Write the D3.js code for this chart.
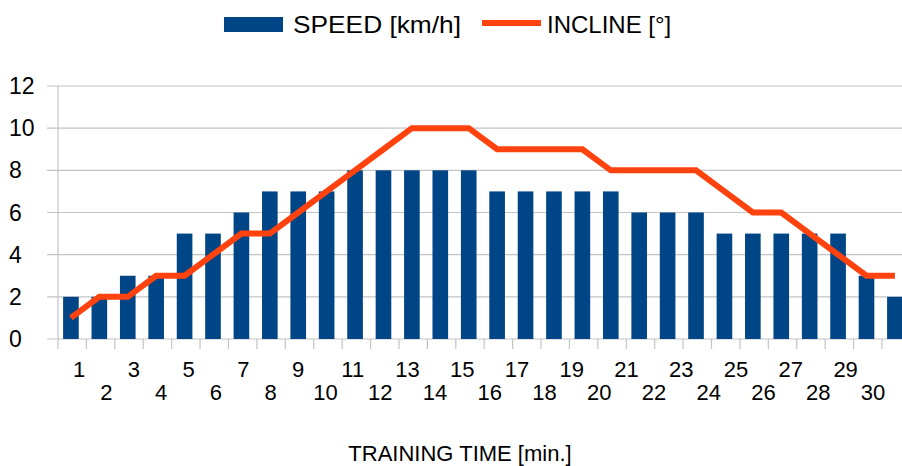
<!DOCTYPE html>
<html lang="en">
<head>
<meta charset="UTF-8">
<title>Speed and incline</title>
<script src="https://cdn.jsdelivr.net/npm/d3@7"></script>
<style>
  body { margin: 0; background: #fff; }
  text { font-family: "Liberation Sans", Arial, sans-serif; fill: #000; }
</style>
</head>
<body>
<div id="chart"></div>
<script>
    // data
    const minutes = d3.range(1, 31);
    const speed = [2, 2, 3, 3, 5, 5, 6, 7, 7, 7, 8, 8, 8, 8, 8, 7, 7, 7, 7, 7, 6, 6, 6, 5, 5, 5, 5, 5, 3, 2];
    const incline = [1, 2, 2, 3, 3, 4, 5, 5, 6, 7, 8, 9, 10, 10, 10, 9, 9, 9, 9, 8, 8, 8, 8, 7, 6, 6, 5, 4, 3, 3];
    const yTicks = [0, 2, 4, 6, 8, 10, 12];

    const W = 902, H = 466;
    const blue = "#004586", orange = "#ff420e", grid = "#c4c4c4";

    svg = d3.select("#chart")
        .append("svg")
        .attr("width", W)
        .attr("height", H);

    const x = d3.scaleBand()
        .domain(minutes)
        .range([58, 910.4])
        .padding(0);
    const y = d3.scaleLinear()
        .domain([0, 12])
        .range([339, 86]);
    // the category labels are spread a bit tighter than the bands
    const xl = d3.scaleLinear()
        .domain([1, 30])
        .range([79, 873]);

    const bw = x.bandwidth();
    const barX = d => x(d) + bw * 0.18;
    const barW = bw * 0.55;

    // horizontal grid
    svg.append("g")
        .selectAll("line")
        .data(yTicks)
        .join("line")
        .attr("x1", 47)
        .attr("x2", W)
        .attr("y1", d => y(d))
        .attr("y2", d => y(d))
        .attr("stroke", grid)
        .attr("stroke-width", 1.2);

    // vertical axis line
    svg.append("line")
        .attr("x1", 58).attr("x2", 58)
        .attr("y1", y(12)).attr("y2", 349)
        .attr("stroke", grid)
        .attr("stroke-width", 1.2);

    // category tick marks at band edges
    svg.append("g")
        .selectAll("line")
        .data(minutes)
        .join("line")
        .attr("x1", d => x(d) + bw)
        .attr("x2", d => x(d) + bw)
        .attr("y1", y(0))
        .attr("y2", 349)
        .attr("stroke", grid)
        .attr("stroke-width", 1.2);

    // y labels
    svg.append("g")
        .selectAll("text")
        .data(yTicks)
        .join("text")
        .attr("x", 9)
        .attr("y", d => y(d) + 8)
        .attr("font-size", 23)
        .text(d => d);

    // bars
    svg.append("g")
        .selectAll("rect")
        .data(minutes)
        .join("rect")
        .attr("x", barX)
        .attr("width", barW)
        .attr("y", (d, i) => y(speed[i]))
        .attr("height", (d, i) => y(0) - y(speed[i]))
        .attr("fill", blue);

    // incline line
    const line = d3.line()
        .x(d => barX(d) + barW / 2)
        .y((d, i) => y(incline[i]));
    svg.append("path")
        .datum(minutes)
        .attr("d", line)
        .attr("fill", "none")
        .attr("stroke", orange)
        .attr("stroke-width", 6)
        .attr("stroke-linejoin", "miter");

    // x labels, staggered in two rows
    svg.append("g")
        .selectAll("text")
        .data(minutes)
        .join("text")
        .attr("x", d => xl(d))
        .attr("y", d => d % 2 ? 377 : 400)
        .attr("text-anchor", "middle")
        .attr("font-size", 22)
        .text(d => d);

    // axis title
    svg.append("text")
        .attr("x", 460)
        .attr("y", 461)
        .attr("text-anchor", "middle")
        .attr("font-size", 22)
        .text("TRAINING TIME [min.]");

    // legend
    const lg = svg.append("g");
    lg.append("rect")
        .attr("x", 224).attr("y", 17)
        .attr("width", 59).attr("height", 15)
        .attr("fill", blue);
    lg.append("text")
        .attr("x", 293).attr("y", 32.5)
        .attr("font-size", 24)
        .attr("textLength", 168)
        .attr("lengthAdjust", "spacingAndGlyphs")
        .text("SPEED [km/h]");
    lg.append("line")
        .attr("x1", 482).attr("x2", 541)
        .attr("y1", 23).attr("y2", 23)
        .attr("stroke", orange)
        .attr("stroke-width", 6);
    lg.append("text")
        .attr("x", 547).attr("y", 32.5)
        .attr("font-size", 24)
        .text("INCLINE [°]");
</script>
</body>
</html>
